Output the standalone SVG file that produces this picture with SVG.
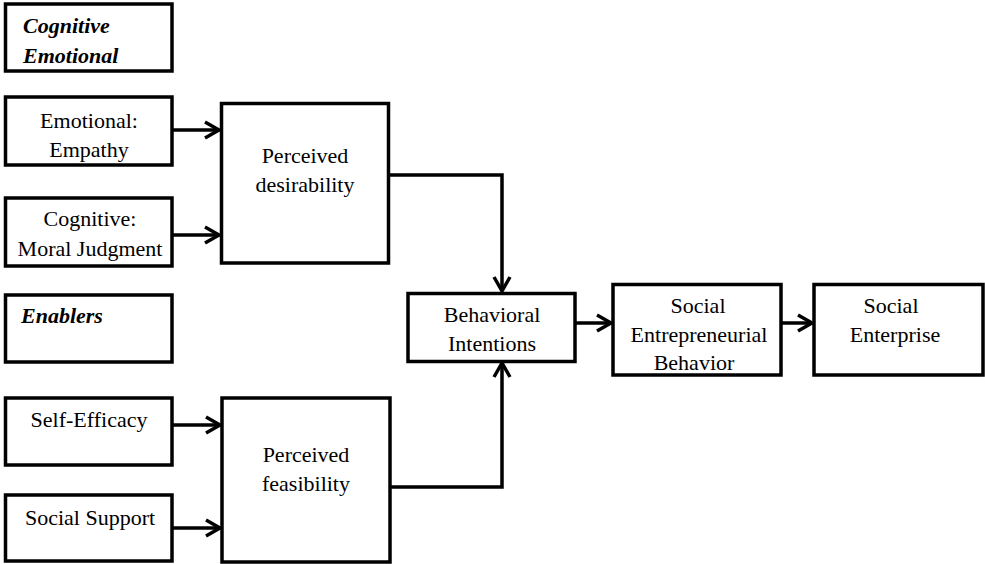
<svg xmlns="http://www.w3.org/2000/svg" width="985" height="564" viewBox="0 0 985 564">
<style>
.box{fill:#fff;stroke:#000;stroke-width:3.5}
.t{font-family:'Liberation Serif','Times New Roman',Tinos,'DejaVu Serif',serif;font-size:22px;fill:#000;text-anchor:middle}
.h{font-family:'Liberation Serif','Times New Roman',Tinos,'DejaVu Serif',serif;font-size:22px;font-weight:bold;font-style:italic;fill:#000}
.c{fill:none;stroke:#000;stroke-width:3.5}
</style>
<defs>
<marker id="arr" markerUnits="userSpaceOnUse" markerWidth="20" markerHeight="20" refX="16" refY="10" orient="auto">
<path d="M2,2 L16,10 L2,18" fill="none" stroke="#000" stroke-width="3.5"/>
</marker>
</defs>
<rect width="985" height="564" fill="#fff"/>
<g id="connectors">
<line class="c" x1="172" y1="130" x2="219" y2="130" marker-end="url(#arr)"/>
<line class="c" x1="172" y1="235" x2="219" y2="235" marker-end="url(#arr)"/>
<line class="c" x1="172" y1="425" x2="220" y2="425" marker-end="url(#arr)"/>
<line class="c" x1="172" y1="528" x2="220" y2="528" marker-end="url(#arr)"/>
<polyline class="c" points="389,175 502,175 502,291" marker-end="url(#arr)"/>
<polyline class="c" points="390,487 502,487 502,363" marker-end="url(#arr)"/>
<line class="c" x1="575" y1="323" x2="611" y2="323" marker-end="url(#arr)"/>
<line class="c" x1="781" y1="323" x2="812" y2="323" marker-end="url(#arr)"/>
</g>
<g id="cognitive-emotional">
<rect class="box" x="5.5" y="4" width="166.5" height="67"/>
<text class="h" x="23" y="33">Cognitive</text>
<text class="h" x="23" y="63">Emotional</text>
</g>
<g id="emotional-empathy">
<rect class="box" x="5.5" y="97" width="166.5" height="68"/>
<text class="t" x="89" y="128">Emotional:</text>
<text class="t" x="89" y="157">Empathy</text>
</g>
<g id="cognitive-moral">
<rect class="box" x="5.5" y="198" width="166.5" height="68"/>
<text class="t" x="90" y="226">Cognitive:</text>
<text class="t" x="90" y="256">Moral Judgment</text>
</g>
<g id="enablers">
<rect class="box" x="5.5" y="295" width="166.5" height="67"/>
<text class="h" x="21" y="323">Enablers</text>
</g>
<g id="self-efficacy">
<rect class="box" x="5.5" y="398" width="166.5" height="67"/>
<text class="t" x="89" y="427">Self-Efficacy</text>
</g>
<g id="social-support">
<rect class="box" x="5.5" y="495" width="166.5" height="66"/>
<text class="t" x="90" y="525">Social Support</text>
</g>
<g id="perceived-desirability">
<rect class="box" x="221.5" y="103.5" width="167" height="159.5"/>
<text class="t" x="305" y="163">Perceived</text>
<text class="t" x="305" y="192">desirability</text>
</g>
<g id="perceived-feasibility">
<rect class="box" x="222" y="398" width="168" height="164"/>
<text class="t" x="306" y="462">Perceived</text>
<text class="t" x="306" y="491">feasibility</text>
</g>
<g id="behavioral-intentions">
<rect class="box" x="408" y="293.5" width="167" height="68"/>
<text class="t" x="492" y="322">Behavioral</text>
<text class="t" x="492" y="351">Intentions</text>
</g>
<g id="social-entrepreneurial-behavior">
<rect class="box" x="613" y="284.5" width="168" height="90.5"/>
<text class="t" x="698" y="313">Social</text>
<text class="t" x="699" y="342">Entrepreneurial</text>
<text class="t" x="694" y="370">Behavior</text>
</g>
<g id="social-enterprise">
<rect class="box" x="814" y="284.5" width="169" height="90.5"/>
<text class="t" x="891" y="313">Social</text>
<text class="t" x="895" y="342">Enterprise</text>
</g>
</svg>
